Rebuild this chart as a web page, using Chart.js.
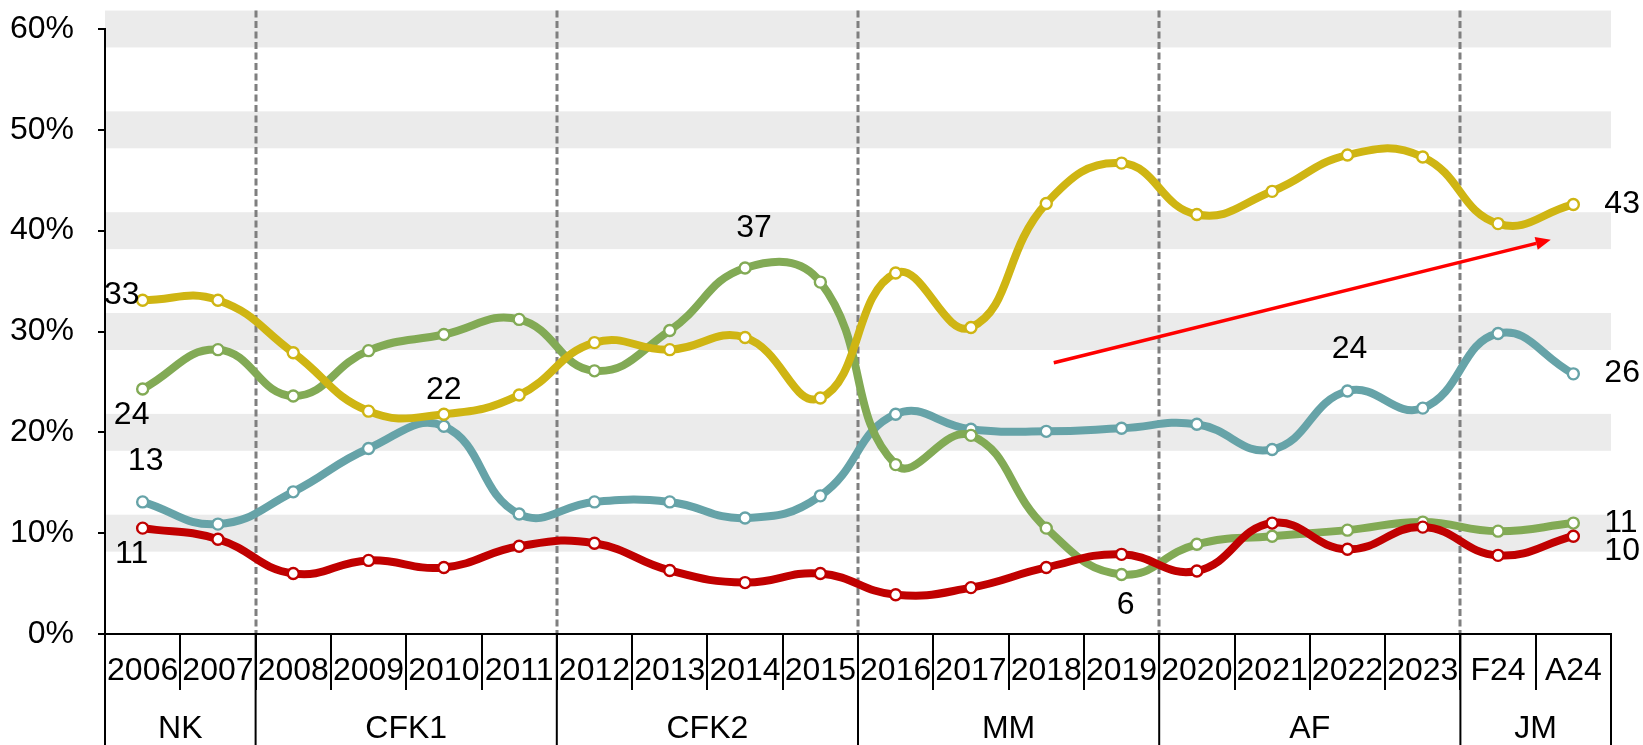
<!DOCTYPE html>
<html><head><meta charset="utf-8">
<script src="https://cdn.jsdelivr.net/npm/chart.js@4.4.1/dist/chart.umd.min.js"></script>
<style>html,body{margin:0;padding:0;background:#fff;overflow:hidden}</style>
</head><body>
<canvas id="c" width="1643" height="745"></canvas>
<script>
// ---------------- DATA ----------------
const categories = ['2006','2007','2008','2009','2010','2011','2012','2013','2014','2015','2016','2017','2018','2019','2020','2021','2022','2023','F24','A24'];
const groupNames = ['NK','CFK1','CFK2','MM','AF','JM'];
const groupSpans = [2,4,4,4,4,2];
const yTickValues = [0,10,20,30,40,50,60];
const seriesYellow = [33.1,33.1,27.9,22.1,21.8,23.7,28.9,28.2,29.4,23.4,35.8,30.4,42.7,46.7,41.6,43.9,47.5,47.3,40.7,42.6];
const seriesGreen  = [24.3,28.2,23.6,28.1,29.7,31.2,26.1,30.1,36.3,34.9,16.8,19.7,10.5,5.9,8.9,9.7,10.3,11.1,10.2,11.0];
const seriesTeal   = [13.1,10.9,14.1,18.4,20.6,11.9,13.1,13.1,11.5,13.7,21.8,20.3,20.1,20.4,20.8,18.3,24.1,22.4,29.8,25.8];
const seriesRed    = [10.5,9.4,6.0,7.3,6.6,8.7,9.0,6.3,5.1,6.0,3.9,4.6,6.6,7.9,6.25,11.0,8.4,10.6,7.8,9.7];
// value labels: [datasetIndex, categoryIndex, text]
const valueLabels = [
  [0,0,'33'],[1,0,'24'],[2,0,'13'],[3,0,'11'],
  [0,4,'22'],[1,8,'37'],[1,13,'6'],[2,16,'24'],
  [0,19,'43'],[2,19,'26'],[1,19,'11'],[3,19,'10']
];
// trend arrow in data space: [categoryIndex, value]
const arrowFrom = [12.1, 26.9];
const arrowTo   = [18.7, 39.1];

// ---------------- STYLE ----------------
const FONT = '"Liberation Sans", Arial, Helvetica, sans-serif';
const FS = 32;
Chart.defaults.font.family = FONT;
Chart.defaults.font.size = FS;
Chart.defaults.color = '#000';
const COLORS = ['#CFB513', '#82AA55', '#66A3A8', '#C00000'];
const ORDERS = [1, 2, 3, 0];
// label offsets (px) and alignment, parallel to valueLabels
const labelStyle = [
  [-3,-5,'right'],[-11,26,'center'],[3,-41,'center'],[-11,26,'center'],
  [0,-24,'center'],[9,-40,'center'],[4,31,'center'],[2,-42,'center'],
  [31,0,'left'],[31,-1,'left'],[31,0,'left'],[31,15,'left']
];
const BAND_HALF = 1.83;

const bgPlugin = {
  id:'bg',
  beforeDraw(chart){
    const {ctx, chartArea:a, scales:{x,y}} = chart;
    ctx.save();
    ctx.fillStyle = '#EBEBEB';
    yTickValues.forEach(v=>{
      if (v === 0) return;
      const t = y.getPixelForValue(v + BAND_HALF), b = y.getPixelForValue(v - BAND_HALF);
      ctx.fillRect(a.left, t, a.right - a.left, b - t);
    });
    // dashed group separators
    ctx.strokeStyle = '#7F7F7F';
    ctx.lineWidth = 3;
    ctx.setLineDash([7,3.5]);
    const top = y.getPixelForValue(60 + BAND_HALF);
    let k = 0;
    for (let g = 0; g < groupSpans.length - 1; g++){
      k += groupSpans[g];
      const px = Math.round(x.getPixelForValue(k - 0.5));
      ctx.beginPath(); ctx.moveTo(px, top); ctx.lineTo(px, a.bottom); ctx.stroke();
    }
    ctx.restore();
  }
};

const fgPlugin = {
  id:'fg',
  afterDraw(chart){
    const {ctx, chartArea:a, scales:{x,y}} = chart;
    const H = chart.height;
    ctx.save();
    // group dividers + labels
    ctx.strokeStyle = '#000'; ctx.lineWidth = 2; ctx.setLineDash([]);
    let k = 0;
    const edges = [0];
    groupSpans.forEach(s=>{ k += s; edges.push(k); });
    edges.forEach(e=>{
      const px = x.getPixelForValue(e - 0.5);
      ctx.beginPath(); ctx.moveTo(px, a.bottom); ctx.lineTo(px, H); ctx.stroke();
    });
    ctx.font = FS + 'px ' + FONT;
    ctx.fillStyle = '#000';
    ctx.textAlign = 'center'; ctx.textBaseline = 'middle';
    groupNames.forEach((n,i)=>{
      const l = x.getPixelForValue(edges[i] - 0.5), r = x.getPixelForValue(edges[i+1] - 0.5);
      ctx.fillText(n, (l + r) / 2, a.bottom + 95);
    });
    // value labels
    valueLabels.forEach((lb,i)=>{
      const pt = chart.getDatasetMeta(lb[0]).data[lb[1]];
      const st = labelStyle[i];
      ctx.textAlign = st[2];
      ctx.fillText(lb[2], pt.x + st[0], pt.y + st[1]);
    });
    // trend arrow
    const x0 = x.getPixelForValue(arrowFrom[0]), y0 = y.getPixelForValue(arrowFrom[1]);
    const x1 = x.getPixelForValue(arrowTo[0]), y1 = y.getPixelForValue(arrowTo[1]);
    const ang = Math.atan2(y1 - y0, x1 - x0);
    const hl = 15, hw = 6.5;
    const bx = x1 - hl * Math.cos(ang), by = y1 - hl * Math.sin(ang);
    ctx.strokeStyle = '#FF0000'; ctx.fillStyle = '#FF0000'; ctx.lineWidth = 3.5;
    ctx.beginPath(); ctx.moveTo(x0, y0); ctx.lineTo(bx, by); ctx.stroke();
    ctx.beginPath();
    ctx.moveTo(x1, y1);
    ctx.lineTo(bx + hw * Math.sin(ang), by - hw * Math.cos(ang));
    ctx.lineTo(bx - hw * Math.sin(ang), by + hw * Math.cos(ang));
    ctx.closePath(); ctx.fill();
    ctx.restore();
  }
};

const allSeries = [seriesYellow, seriesGreen, seriesTeal, seriesRed];
new Chart(document.getElementById('c'), {
  type:'line',
  data:{
    labels:categories,
    datasets: allSeries.map((d,i)=>({
      label:'S'+(i+1), data:d, order:ORDERS[i],
      borderColor:COLORS[i], backgroundColor:COLORS[i],
      pointBackgroundColor:'#fff', pointBorderColor:COLORS[i],
      pointRadius:5.5, pointBorderWidth:2.4, borderWidth:8,
      tension:0.45, fill:false, borderCapStyle:'round', borderJoinStyle:'round'
    }))
  },
  options:{
    responsive:false, animation:false, devicePixelRatio:1,
    layout:{padding:{top:29, right:32, left:0, bottom:0}},
    plugins:{legend:{display:false}, tooltip:{enabled:false}},
    scales:{
      x:{
        offset:true,
        grid:{offset:true, drawOnChartArea:false, drawTicks:true, tickLength:56, color:'#000', lineWidth:2},
        border:{display:true, color:'#000', width:2},
        ticks:{autoSkip:false, maxRotation:0, minRotation:0, padding:-38, color:'#000', font:{size:FS}},
        afterFit:s=>{ s.height = 111; s.paddingLeft = 0; s.paddingRight = 0; }
      },
      y:{
        min:0, max:60,
        afterBuildTicks:s=>{ s.ticks = yTickValues.map(v=>({value:v})); },
        grid:{drawOnChartArea:false, drawTicks:true, tickLength:7, color:'#000', lineWidth:2},
        border:{display:true, color:'#000', width:2},
        ticks:{padding:24, color:'#000', font:{size:FS}, callback:v=>v+'%'},
        afterFit:s=>{ s.width = 105; s.paddingTop = 0; s.paddingBottom = 0; }
      }
    }
  },
  plugins:[bgPlugin, fgPlugin]
});
</script>
</body></html>
